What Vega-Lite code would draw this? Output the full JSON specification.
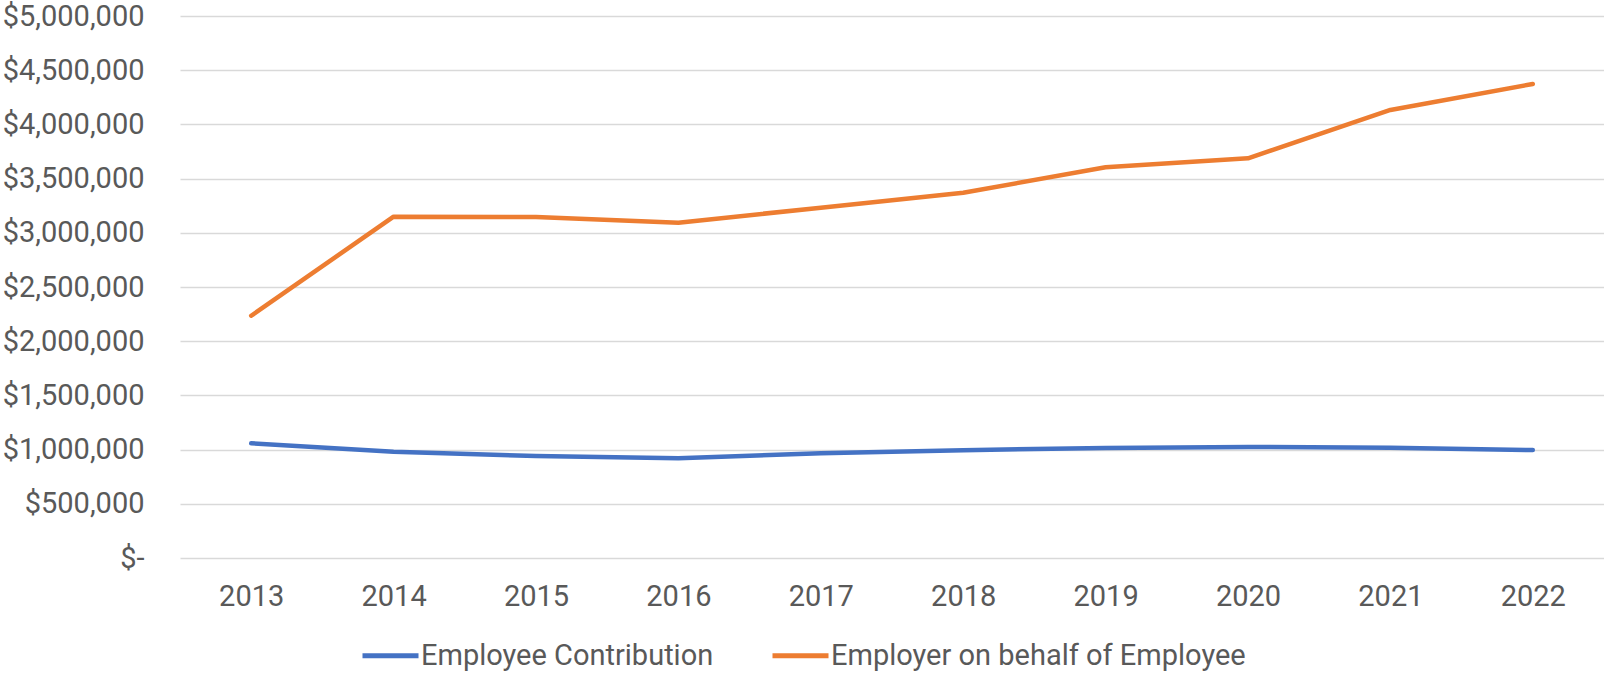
{
  "$schema": "https://vega.github.io/schema/vega-lite/v6.json",
  "width": 1424,
  "height": 542,
  "autosize": {"type": "none"},
  "padding": {"left": 180, "top": 16, "right": 0, "bottom": 117},
  "background": "white",
  "config": {"view": {"stroke": null}, "font": "Roboto"},
  "data": {
    "values": [
      {"year": "2013", "series": "Employee Contribution", "value": 1058000},
      {"year": "2014", "series": "Employee Contribution", "value": 981000},
      {"year": "2015", "series": "Employee Contribution", "value": 941000},
      {"year": "2016", "series": "Employee Contribution", "value": 920000},
      {"year": "2017", "series": "Employee Contribution", "value": 967000},
      {"year": "2018", "series": "Employee Contribution", "value": 995000},
      {"year": "2019", "series": "Employee Contribution", "value": 1015000},
      {"year": "2020", "series": "Employee Contribution", "value": 1024000},
      {"year": "2021", "series": "Employee Contribution", "value": 1018000},
      {"year": "2022", "series": "Employee Contribution", "value": 996000},
      {"year": "2013", "series": "Employer on behalf of Employee", "value": 2235000},
      {"year": "2014", "series": "Employer on behalf of Employee", "value": 3149000},
      {"year": "2015", "series": "Employer on behalf of Employee", "value": 3146000},
      {"year": "2016", "series": "Employer on behalf of Employee", "value": 3093000},
      {"year": "2017", "series": "Employer on behalf of Employee", "value": 3232000},
      {"year": "2018", "series": "Employer on behalf of Employee", "value": 3370000},
      {"year": "2019", "series": "Employer on behalf of Employee", "value": 3604000},
      {"year": "2020", "series": "Employer on behalf of Employee", "value": 3687000},
      {"year": "2021", "series": "Employer on behalf of Employee", "value": 4133000},
      {"year": "2022", "series": "Employer on behalf of Employee", "value": 4373000}
    ]
  },
  "mark": {"type": "line", "strokeWidth": 4.5, "strokeCap": "round", "strokeJoin": "round"},
  "encoding": {
    "x": {
      "field": "year",
      "type": "ordinal",
      "scale": {"type": "point", "padding": 0.5},
      "axis": {"title": null, "labelAngle": 0, "ticks": false, "domain": false, "grid": false, "labelFontSize": 29, "labelColor": "#595959", "labelPadding": 24}
    },
    "y": {
      "field": "value",
      "type": "quantitative",
      "scale": {"domain": [0, 5000000]},
      "axis": {
        "title": null,
        "values": [0, 500000, 1000000, 1500000, 2000000, 2500000, 3000000, 3500000, 4000000, 4500000, 5000000],
        "labelExpr": "datum.value == 0 ? '$-\u00a0\u00a0' : '$' + format(datum.value, ',')",
        "ticks": false,
        "domain": false,
        "gridColor": "#d9d9d9",
        "gridWidth": 1.5,
        "labelFontSize": 29,
        "labelColor": "#595959",
        "labelPadding": 36
      }
    },
    "color": {
      "field": "series",
      "type": "nominal",
      "scale": {"range": ["#4472C4", "#ED7D31"]},
      "legend": {
        "title": null,
        "orient": "none",
        "legendX": 180,
        "legendY": 609,
        "direction": "horizontal",
        "symbolType": "stroke",
        "symbolSize": 3136,
        "symbolStrokeWidth": 5,
        "labelFontSize": 29,
        "labelLimit": 1000,
        "labelColor": "#595959",
        "labelOffset": 0,
        "columnPadding": 48
      }
    }
  }
}
